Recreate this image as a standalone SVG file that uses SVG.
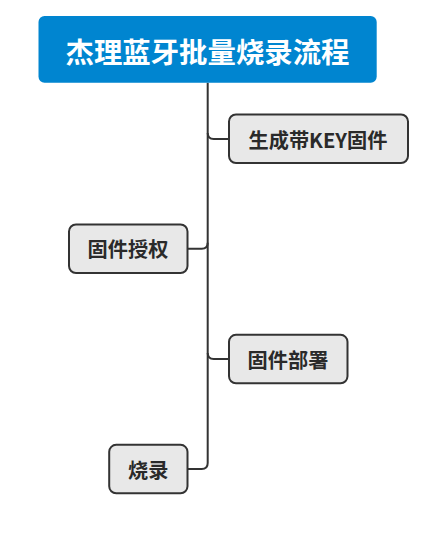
<svg xmlns="http://www.w3.org/2000/svg" width="447" height="533" viewBox="0 0 447 533">
<style>
.node rect{fill:#e8e8e8;stroke:#333;stroke-width:2}
.node text{font-family:"Noto Sans CJK SC","Noto Sans",sans-serif;font-weight:bold;font-size:20.2px;fill:#2a2a2a;text-anchor:middle;dominant-baseline:central}
.title rect{fill:#0085d0}
.title text{font-family:"Noto Sans CJK SC","Noto Sans",sans-serif;font-weight:bold;font-size:28.4px;fill:#fff;text-anchor:middle;dominant-baseline:central}
.conn path{fill:none;stroke:#333;stroke-width:2}
</style>
<rect width="447" height="533" fill="#fff"/>
<g class="conn" id="connectors">
<path d="M207.7 82.7 V463 Q207.7 469 201.7 469 H187.7"/>
<path d="M207.7 133 Q207.7 139 213.7 139 H229"/>
<path d="M207.7 242.7 Q207.7 248.7 201.7 248.7 H187.7"/>
<path d="M207.7 353 Q207.7 359 213.7 359 H229"/>
</g>
<g class="title" id="node-root">
<rect x="38.5" y="16" width="338.2" height="66.7" rx="6"/>
<text x="207.5" y="50">杰理蓝牙批量烧录流程</text>
</g>
<g class="node" id="node-key">
<rect x="229" y="114.5" width="179" height="48.5" rx="7"/>
<text x="318" y="139">生成带KEY固件</text>
</g>
<g class="node" id="node-auth">
<rect x="69" y="224.5" width="118.5" height="48.5" rx="7"/>
<text x="128" y="248.7">固件授权</text>
</g>
<g class="node" id="node-deploy">
<rect x="229" y="334.8" width="118.5" height="48.5" rx="7"/>
<text x="288" y="359">固件部署</text>
</g>
<g class="node" id="node-burn">
<rect x="109.2" y="444.8" width="78.3" height="48.5" rx="7"/>
<text x="148.3" y="469">烧录</text>
</g>
</svg>
